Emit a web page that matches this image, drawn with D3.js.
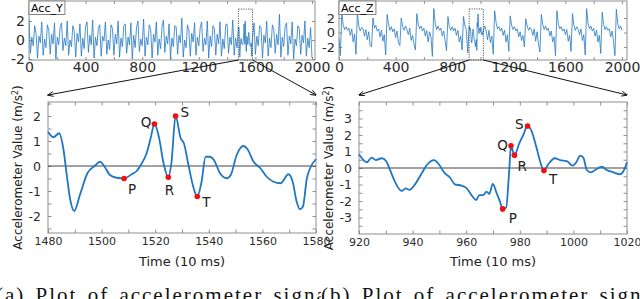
<!DOCTYPE html>
<html>
<head>
<meta charset="utf-8">
<script src="https://cdn.jsdelivr.net/npm/d3@7"></script>
<style>
body { margin: 0; background: #fff; }
svg { display: block; font-family: "DejaVu Sans", sans-serif; }
</style>
</head>
<body>
<svg id="chart" width="640" height="299"></svg>
<script>
// overview signals, one value every 10 samples (t = 0..2000)
var overStep = 10;
var accY = [
  2.2, -1.4, 0.3, -0.6, 1.5, 0.7, -1.9, 0.4, -0.3, 1.9, -1.6, 0.1, -0.8, 1.6, 1.0, -1.5, 0.6, -0.4, 1.8, -2.0,
  0.3, -0.5, 1.3, 1.8, -1.1, 0.2, -0.6, 2.0, -1.6, 0.0, -0.7, 1.5, 0.9, -1.8, 0.7, -0.2, 1.7, -1.7, 0.2, -0.9,
  1.4, 1.9, -1.3, 0.5, -0.5, 2.1, -1.9, 0.3, -0.6, 1.2, 1.6, -1.7, 0.4, -0.1, 1.9, -1.5, 0.0, -1.0, 1.6, 1.2,
  -1.6, 0.6, -0.4, 2.0, -1.8, 0.2, -0.7, 1.5, 1.7, -1.4, 0.3, -0.5, 1.8, -2.0, 0.5, -0.8, 1.3, 2.0, -1.2, 0.1,
  -0.6, 2.2, -1.7, 0.3, -0.5, 1.6, 1.1, -1.9, 0.6, -0.2, 1.9, -1.6, 0.1, -0.9, 1.4, 2.1, -1.3, 0.4, -0.4, 1.7,
  -2.0, 0.2, -0.7, 1.5, 1.4, -1.5, 0.5, -0.3, 2.3, -1.8, 0.0, -0.8, 1.6, 1.0, -1.7, 0.7, -0.2, 1.8, -1.6, 0.3,
  -0.6, 1.3, 1.9, -1.2, 0.2, -0.5, 2.0, -1.9, 0.4, -0.7, 1.5, 1.2, -1.6, 0.6, -0.4, 1.9, -1.7, 0.1, -0.9, 1.6,
  1.7, -1.4, 0.3, -0.5, 2.1, -1.6, 0.2, -0.8, 1.37, -1.8, 0.1, -0.4, 1.65, 1.0, 0.37, 0.4, -0.2, -0.6, 0.3, 1.8,
  -1.5, 0.4, -0.6, 1.5, 1.3, -1.9, 0.5, -0.3, 2.0, -1.7, 0.2, -0.8, 1.6, 1.1, -1.4, 0.6, -0.5, 2.7, -1.8, 0.3,
  -0.7, 1.4, 1.8, -1.6, 0.4, -0.4, 1.9, -2.0, 0.1, -0.6, 1.5, 1.2, -1.5, 0.5, -0.3, 2.0, -1.7, 0.2, -0.8, 1.3,
  -1.9
];
var accZ = [
  -0.8, -3.2, 2.7, 1.0, 0.4, 0.8, 0.3, 0.6, -0.4, 0.5, -1.3, -0.2, -3.0, 2.8, 0.9, 0.2, 0.7, 0.5, -0.5, 0.4,
  -1.0, 0.1, -1.8, -2.0, 2.0, 0.6, 1.0, 0.2, 0.5, -0.6, 0.3, -1.2, -0.3, -3.1, 2.5, 1.2, 0.3, 0.8, 0.1, 0.5,
  -0.7, 0.2, -1.4, -1.8, 2.0, 0.8, 0.3, 0.9, 0.4, -0.3, 0.6, -1.1, -0.4, -1.6, -2.4, 2.6, 1.1, 0.5, 0.9, 0.2,
  0.6, -0.5, 0.3, -1.3, 0.1, -0.6, -3.3, 3.3, 1.3, 0.4, 0.9, 0.3, 0.6, -0.5, 0.2, -1.2, -2.5, 2.2, 0.8, 0.3,
  0.8, 0.2, 0.6, -0.4, 0.3, -1.3, -0.5, -2.4, 2.2, 0.9, 0.3, -2.8, 0.83, 0.42, -1.1, 0.18, -1.23, -1.0, 1.6, 0.2,
  0.2, 0.05, 0.35, 0.9, 0.2, -1.0, 0.3, -1.4, -0.5, -3.0, 3.0, 1.4, 0.5, 0.8, 0.2, 0.6, -0.4, 0.3, -1.3, -0.3,
  -2.6, 2.3, 1.0, 0.4, 0.8, 0.2, 0.5, -0.6, 0.1, -1.1, -0.4, -2.0, 1.9, 0.9, 0.3, 0.7, 0.4, -0.4, 0.5, -1.2,
  0.1, -1.6, -2.7, 2.5, 1.1, 0.4, 0.9, 0.3, 0.6, -0.5, 0.2, -1.3, -0.6, -3.2, 3.0, 1.2, 0.5, 0.8, 0.2, 0.5,
  -0.3, 0.4, -1.2, -0.4, -2.6, 2.6, 1.0, 0.3, 0.8, 0.4, -0.3, 0.5, -1.1, -0.3, -3.1, 3.3, 1.3, 0.5, 0.9, 0.2,
  0.6, -0.5, 0.3, -1.3, -0.4, -2.9, 2.8, 1.1, 0.4, 0.8, 0.3, 0.5, -0.6, 0.2, -1.2, -3.2, 3.2, 1.2, 0.5, 0.9,
  0.3
];

// zoomed windows (time in 10 ms, value in m/s^2)
var yWinT = [1480, 1482, 1484.2, 1485.7, 1487, 1488.2, 1489.8, 1491.9, 1494.7, 1497.5, 1499.4, 1500.9, 1503.1, 1505.6,
  1508.4, 1511.2, 1513.1, 1515, 1516.8, 1518.3, 1519.7, 1521.5, 1523, 1524.9, 1526.1, 1527.6, 1529.5, 1530.7, 1532.4,
  1534.2, 1535.7, 1537.3, 1538.8, 1540.4, 1541.9, 1544.2, 1546.7, 1548.2, 1550.4, 1552.9, 1554.4, 1556.7, 1559.1,
  1561.6, 1564.1, 1566.8, 1569.7, 1571.3, 1572.8, 1574, 1575.1, 1576.6, 1577.8, 1580];
var yWinV = [1.37, 1.15, 1.31, 0.71, -0.36, -1.29, -1.8, -1.16, -0.29, 0.01, 0.17, 0.01, -0.36, -0.47,
  -0.5, -0.33, -0.2, 0.11, 0.51, 1.11, 1.68, 1.1, 0.17, -0.45, 0.17, 2.0, 1.11, 0.91, 0.04,
  -0.83, -1.22, -0.63, 0.37, 0.37, 0.24, -0.29, -0.49, -0.36, 0.44, 0.8, 0.68, 0.17, -0.07,
  -0.43, -0.63, -0.69, -0.33, -0.63, -1.43, -1.73, -1.63, -0.49, -0.09, 0.28];
var zWinT = [920, 922.9, 924.7, 926.3, 928.5, 930.1, 931.6, 933.4, 935.9, 937.5, 938.8, 940.9, 943.4, 945.3, 948, 950,
  951.7, 954, 955.8, 958.3, 960.2, 962.4, 963.7, 964.9, 966.4, 967.6, 968.6, 969.9, 971.4, 972.6, 973.6, 974.9,
  976.1, 976.7, 978, 979.8, 981.3, 982.9, 984.4, 986.3, 987.8, 989, 990.6, 993.1, 995, 997.5, 999.7, 1001.2,
  1002.5, 1003.7, 1005, 1006.4, 1008.1, 1010.6, 1012.4, 1014.9, 1017.4, 1018.9, 1020];
var zWinV = [0.83, 0.35, 0.63, 0.48, 0.59, 0.42, -0.12, -0.83, -1.39, -1.23, -1.33, -0.99, -0.32, 0.18, 0.48, 0.18,
  -0.26, -0.59, -0.99, -1.07, -1.23, -1.74, -1.94, -1.64, -1.64, -1.43, -1.57, -0.97, -1.54, -2.04, -2.48, -2.4,
  -0.02, 1.35, 0.78, 1.49, 2.0, 2.55, 2.24, 1.19, 0.28, -0.15, 0.22, 0.59, 0.48, 0.42, 0.14, 0.38,
  0.75, 0.63, -0.12, -0.26, -0.12, 0.08, -0.12, -0.26, -0.38, -0.12, 0.35];

// P Q R S T points
var waveNames = ["P", "Q", "R", "S", "T"];
var yPtT = [1508.4, 1519.7, 1524.9, 1527.6, 1535.7], yPtV = [-0.5, 1.68, -0.45, 2.0, -1.22];
var zPtT = [973.6, 976.7, 978, 982.9, 989], zPtV = [-2.48, 1.35, 0.78, 2.55, -0.15];

var yWindow = [1480, 1580], zWindow = [920, 1020];
var winTop = 3.25;

var overXTicks = [0, 400, 800, 1200, 1600, 2000];
var overYTicks = [-2, 0, 2];
var yDetailXTicks = [1480, 1500, 1520, 1540, 1560, 1580];
var zDetailXTicks = [920, 940, 960, 980, 1000, 1020];
var yDetailYTicks = [-2, -1, 0, 1, 2];
var zDetailYTicks = [-3, -2, -1, 0, 1, 2, 3];

var svg = d3.select("#chart");
var frameCol = "#8f8f8f", textCol = "#2b2b2b";

var defs = svg.append("defs");
defs.append("marker")
  .attr("id", "arr")
  .attr("viewBox", "0 0 10 10")
  .attr("refX", 9).attr("refY", 5)
  .attr("markerWidth", 6).attr("markerHeight", 6)
  .attr("orient", "auto")
  .append("path").attr("d", "M0,1L10,5L0,9").attr("fill", "none").attr("stroke", "#111").attr("stroke-width", 1.5);

function series(t, v) {
  return t.map(function(d, i){ return {t: d, v: v[i]}; });
}

// overview points with the zoom window swapped for the detailed samples
function spliced(over, win, wt, wv) {
  var pts = over.map(function(v, i){ return {t: i * overStep, v: v}; })
    .filter(function(d){ return d.t < win[0] || d.t > win[1]; });
  return pts.concat(series(wt, wv)).sort(function(a, b){ return a.t - b.t; });
}

// MATLAB-like box with inward ticks on all four sides
function box(g, x, y, o) {
  var x0 = o.left, x1 = o.right, y0 = o.top, y1 = o.bottom;
  var lab = function(list){ return function(d){ return list.indexOf(d) >= 0 ? d : ""; }; };

  g.append("rect").attr("x", x0).attr("y", y0).attr("width", x1 - x0).attr("height", y1 - y0)
    .attr("fill", "#fff").attr("stroke", frameCol).attr("stroke-width", 1);

  var ax = [
    {a: d3.axisBottom(x).tickValues(o.xt).tickFormat(lab(o.xl)), tr: [0, y1], pad: o.xpad, fs: o.xfont},
    {a: d3.axisTop(x).tickValues(o.xt).tickFormat(""), tr: [0, y0], pad: 2, fs: o.xfont},
    {a: d3.axisLeft(y).tickValues(o.yt).tickFormat(lab(o.yl)), tr: [x0, 0], pad: o.ypad, fs: o.yfont},
    {a: d3.axisRight(y).tickValues(o.yt).tickFormat(""), tr: [x1, 0], pad: 2, fs: o.yfont}
  ];
  ax.forEach(function(s){
    s.a.tickSizeInner(-o.tick).tickSizeOuter(0).tickPadding(s.pad);
    var gg = g.append("g").attr("transform", "translate(" + s.tr + ")").call(s.a)
      .attr("font-family", null).attr("font-size", null);
    gg.select(".domain").remove();
    gg.selectAll(".tick line").attr("stroke", frameCol);
    gg.selectAll("text").attr("fill", textCol).style("font-size", s.fs + "px");
  });
}

function overview(o) {
  var x = d3.scaleLinear().domain([0, 2000]).range(o.xr);
  var y = d3.scaleLinear().domain(o.yd).range([o.bottom, o.top]);
  var g = svg.append("g");
  box(g, x, y, {left: o.xr[0], right: o.right, top: o.top, bottom: o.bottom,
    xt: d3.range(0, 2001, 200), xl: overXTicks, yt: overYTicks, yl: overYTicks,
    tick: 3, xpad: 2, ypad: 4, xfont: 14, yfont: o.yfont});

  g.append("clipPath").attr("id", "c" + o.id)
    .append("rect").attr("x", o.xr[0]).attr("y", o.top).attr("width", o.right - o.xr[0]).attr("height", o.bottom - o.top);

  var line = d3.line().x(function(d){ return x(d.t); }).y(function(d){ return y(d.v); });
  g.append("path")
    .datum(spliced(o.data, o.win, o.wt, o.wv))
    .attr("clip-path", "url(#c" + o.id + ")")
    .attr("d", line)
    .attr("fill", "none")
    .attr("stroke", "#2479c4")
    .attr("stroke-width", 0.8);

  // zoom window
  g.append("rect")
    .attr("x", x(o.win[0])).attr("y", y(winTop))
    .attr("width", x(o.win[1]) - x(o.win[0])).attr("height", o.bottom - y(winTop))
    .attr("fill", "none").attr("stroke", "#444").attr("stroke-width", 0.9).attr("stroke-dasharray", "1.2,1.2");

  // legend box
  var lg = g.append("g");
  var txt = lg.append("text").attr("x", o.xr[0] + 2).attr("y", o.top + 10.5)
    .style("font-size", "11px").attr("fill", "#000").text(o.name);
  var bb = txt.node().getBBox();
  lg.insert("rect", "text").attr("x", o.xr[0]).attr("y", o.top)
    .attr("width", bb.width + 4).attr("height", 13.5)
    .attr("fill", "#fff").attr("stroke", "#777").attr("stroke-width", 0.9);

  return {x: x, y: y};
}

function detail(o) {
  var x = d3.scaleLinear().domain(o.win).range([o.left, o.right]);
  var y = d3.scaleLinear().domain(o.yd).range([o.bottom, o.top]);
  var g = svg.append("g");
  box(g, x, y, {left: o.left, right: o.right, top: o.top, bottom: o.bottom,
    xt: d3.range(o.win[0], o.win[1] + 1, 10), xl: o.xl, yt: d3.range(o.yd[0] < -3.5 ? -3.5 : -2.5, o.yd[1], 0.5), yl: o.yl,
    tick: 3.5, xpad: 4, ypad: 7, xfont: 11, yfont: 12.5});

  // zero line
  g.append("line").attr("x1", o.left).attr("x2", o.right).attr("y1", y(0)).attr("y2", y(0))
    .attr("stroke", "#444").attr("stroke-width", 1);

  var line = d3.line().curve(d3.curveMonotoneX)
    .x(function(d){ return x(d.t); }).y(function(d){ return y(d.v); });
  g.append("path").datum(series(o.wt, o.wv))
    .attr("d", line).attr("fill", "none")
    .attr("stroke", "#1f77c4").attr("stroke-width", 1.8).attr("stroke-linejoin", "round");

  var pts = series(o.pt, o.pv);
  g.selectAll(".pt").data(pts).enter().append("circle")
    .attr("class", "pt")
    .attr("cx", function(d){ return x(d.t); })
    .attr("cy", function(d){ return y(d.v); })
    .attr("r", 2.8).attr("fill", "#f01010");
  g.selectAll(".ptl").data(pts).enter().append("text")
    .attr("class", "ptl")
    .attr("x", function(d, i){ return x(d.t) + o.ldx[i]; })
    .attr("y", function(d, i){ return y(d.v) + o.ldy[i]; })
    .attr("text-anchor", function(d, i){ return o.ldx[i] < -2 ? "end" : (o.ldx[i] > 2 ? "start" : "middle"); })
    .style("font-size", "13.5px").attr("fill", "#222")
    .text(function(d, i){ return waveNames[i]; });

  // axis titles
  g.append("text").attr("x", (o.left + o.right) / 2).attr("y", 266)
    .attr("text-anchor", "middle").style("font-size", "13px").attr("fill", "#222")
    .text("Time (10 ms)");
  var yt = g.append("text")
    .attr("transform", "translate(" + o.ylabX + "," + ((o.top + o.bottom) / 2) + ") rotate(-90)")
    .attr("text-anchor", "middle").style("font-size", "12px").attr("fill", "#222");
  yt.append("tspan").text("Accelerometer Value (m/s");
  yt.append("tspan").attr("dy", -4.5).style("font-size", "8px").text("2");
  yt.append("tspan").attr("dy", 4.5).text(")");

  return {x: x, y: y};
}

var topY = overview({id: "y", name: "Acc_Y", data: accY, win: yWindow, wt: yWinT, wv: yWinV,
  xr: [29, 312], right: 315, top: 1, bottom: 60, yd: [-2.1, 4.1], yfont: 14});
var topZ = overview({id: "z", name: "Acc_Z", data: accZ, win: zWindow, wt: zWinT, wv: zWinV,
  xr: [339, 622], right: 627, top: 1, bottom: 60, yd: [-3.8, 4.35], yfont: 13});

var botY = detail({win: yWindow, wt: yWinT, wv: yWinV, pt: yPtT, pv: yPtV,
  left: 48, right: 316, top: 102, bottom: 233, yd: [-2.68, 2.56],
  xl: yDetailXTicks, yl: yDetailYTicks, ylabX: 22,
  ldx: [4, -3, 1, 5, 5], ldy: [15, 3, 18, 1, 10]});
var botZ = detail({win: zWindow, wt: zWinT, wv: zWinV, pt: zPtT, pv: zPtV,
  left: 359, right: 627, top: 102, bottom: 234, yd: [-4, 4],
  xl: zDetailXTicks, yl: zDetailYTicks, ylabX: 333,
  ldx: [6, -3, 3, -4, 5], ldy: [14, 4, 16, 3, 14]});

// connector arrows from the zoom windows to the detail panels
function connector(top, win, bot, yBottom) {
  [0, 1].forEach(function(k){
    svg.append("line")
      .attr("x1", top.x(win[k])).attr("y1", yBottom)
      .attr("x2", bot.x(win[k])).attr("y2", bot.y.range()[1] - 7)
      .attr("stroke", "#111").attr("stroke-width", 1)
      .attr("marker-end", "url(#arr)");
  });
}
connector(topY, yWindow, botY, 60);
connector(topZ, zWindow, botZ, 60);

// sub-figure captions
defs.append("clipPath").attr("id", "capL").append("rect").attr("x", 0).attr("y", 0).attr("width", 321).attr("height", 299);
var capFont = "'Liberation Serif', 'DejaVu Serif', serif";
svg.append("text").attr("clip-path", "url(#capL)")
  .attr("x", -4).attr("y", 302)
  .attr("font-family", capFont).style("font-size", "21px")
  .attr("letter-spacing", "2px").attr("word-spacing", "3px").attr("fill", "#111")
  .text("(a) Plot of accelerometer signal");
svg.append("text")
  .attr("x", 321).attr("y", 302)
  .attr("font-family", capFont).style("font-size", "21px")
  .attr("letter-spacing", "2px").attr("word-spacing", "3px").attr("fill", "#111")
  .text("(b) Plot of accelerometer signal");
</script>
</body>
</html>
